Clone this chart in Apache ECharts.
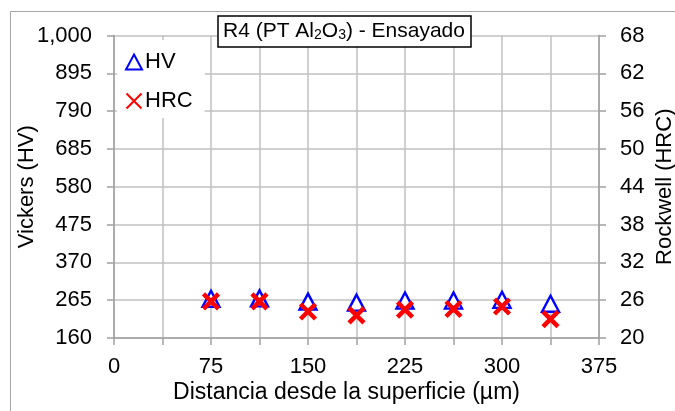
<!DOCTYPE html>
<html>
<head>
<meta charset="utf-8">
<script src="https://cdn.jsdelivr.net/npm/echarts@6/dist/echarts.min.js"></script>
<style>
  html, body { margin: 0; padding: 0; background: #ffffff; }
  #chart { width: 675px; height: 411px; }
</style>
</head>
<body>
<div id="chart"></div>
<script>
// Hardness profile vs depth from the surface
const distances = [75, 112.5, 150, 187.5, 225, 262.5, 300, 337.5];
const vickersHV = [269, 270, 261, 258, 264, 264, 266, 255];
const rockwellHRC = [25.8, 25.8, 24.2, 23.6, 24.5, 24.6, 25.0, 23.0];

const hvTicks = [160, 265, 370, 475, 580, 685, 790, 895, 1000];
const hrcTicks = [20, 26, 32, 38, 44, 50, 56, 62, 68];
const xTicks = [0, 75, 150, 225, 300, 375];

const FONT = 'Liberation Sans, Arial, sans-serif';
const crossPath = 'path://M0,0L10,10M10,0L0,10';
const axisGrey = '#a0a0a0';
const gridGrey = '#c0c0c0';

const chart = echarts.init(document.getElementById('chart'));
chart.setOption({
  backgroundColor: '#ffffff',
  animation: false,
  graphic: [{
    type: 'rect',
    shape: { x: 10.5, y: 11.5, width: 700, height: 420 },
    style: { fill: 'none', stroke: '#a6a6a6', lineWidth: 1 },
    z: -1
  }],
  title: {
    text: '{a|R4 (PT Al}{s|2}{a|O}{s|3}{a|) - Ensayado}',
    left: 218,
    top: 13,
    padding: [5, 6, 5, 5],
    borderColor: '#000000',
    borderWidth: 1.5,
    backgroundColor: '#ffffff',
    textStyle: {
      rich: {
        a: { fontFamily: FONT, fontSize: 21, fontWeight: 'normal', color: '#000', lineHeight: 24, verticalAlign: 'bottom' },
        s: { fontFamily: FONT, fontSize: 14, fontWeight: 'normal', color: '#000', lineHeight: 20, verticalAlign: 'bottom' }
      }
    }
  },
  legend: {
    orient: 'vertical',
    left: 117,
    top: 40,
    itemGap: 17,
    itemWidth: 16,
    itemHeight: 15,
    padding: [11, 12, 6, 8],
    backgroundColor: '#ffffff',
    textStyle: { fontFamily: FONT, fontSize: 22, color: '#000', padding: [0, 0, 0, -2] },
    data: ['HV', 'HRC']
  },
  grid: { left: 114, right: 76, top: 35.5, bottom: 73, containLabel: false, outerBoundsMode: 'none' },
  xAxis: {
    type: 'value',
    min: xTicks[0],
    max: xTicks[xTicks.length - 1],
    interval: 37.5,
    name: 'Distancia desde la superficie (\u00b5m)',
    nameLocation: 'middle',
    nameGap: 43,
    nameMoveOverlap: false,
    nameTextStyle: { fontFamily: FONT, fontSize: 23, color: '#000', padding: [0, 20, 0, 0] },
    axisLine: { show: true, lineStyle: { color: axisGrey, width: 1.5 } },
    axisTick: { show: true, length: 7, lineStyle: { color: axisGrey, width: 1.5 } },
    axisLabel: {
      fontFamily: FONT, fontSize: 22, color: '#000', margin: 18,
      formatter: v => (xTicks.indexOf(v) >= 0 ? String(v) : '')
    },
    splitLine: { show: true, lineStyle: { color: gridGrey, width: 1.5 } }
  },
  yAxis: [{
    type: 'value',
    min: hvTicks[0],
    max: hvTicks[hvTicks.length - 1],
    interval: 105,
    name: 'Vickers (HV)',
    nameLocation: 'middle',
    nameGap: 76,
    nameRotate: 90,
    nameMoveOverlap: false,
    nameTextStyle: { fontFamily: FONT, fontSize: 22, color: '#000' },
    axisLine: { show: true, lineStyle: { color: axisGrey, width: 1.5 } },
    axisTick: { show: true, length: 7, lineStyle: { color: axisGrey, width: 1.5 } },
    axisLabel: {
      fontFamily: FONT, fontSize: 22, color: '#000', margin: 22,
      formatter: v => v.toLocaleString('en-US')
    },
    splitLine: { show: true, lineStyle: { color: gridGrey, width: 1.5 } }
  }, {
    type: 'value',
    min: hrcTicks[0],
    max: hrcTicks[hrcTicks.length - 1],
    interval: 6,
    position: 'right',
    name: 'Rockwell (HRC)',
    nameLocation: 'middle',
    nameGap: 55,
    nameRotate: 90,
    nameMoveOverlap: false,
    nameTextStyle: { fontFamily: FONT, fontSize: 22, color: '#000' },
    axisLine: { show: true, lineStyle: { color: axisGrey, width: 1.5 } },
    axisTick: { show: true, length: 7, lineStyle: { color: axisGrey, width: 1.5 } },
    axisLabel: { fontFamily: FONT, fontSize: 22, color: '#000', margin: 21 },
    splitLine: { show: false }
  }],
  series: [{
    name: 'HV',
    type: 'scatter',
    yAxisIndex: 0,
    symbol: 'triangle',
    symbolSize: [17, 16],
    itemStyle: { color: '#ffffff', borderColor: '#0000ff', borderWidth: 2.4, opacity: 1 },
    data: distances.map((d, i) => [d, vickersHV[i]]),
    z: 2
  }, {
    name: 'HRC',
    type: 'scatter',
    yAxisIndex: 1,
    symbol: crossPath,
    symbolSize: 15,
    itemStyle: { color: '#ff0000', borderColor: '#ff0000', borderWidth: 4.5, opacity: 1 },
    data: distances.map((d, i) => [d, rockwellHRC[i]]),
    z: 3
  }]
});
</script>
</body>
</html>
